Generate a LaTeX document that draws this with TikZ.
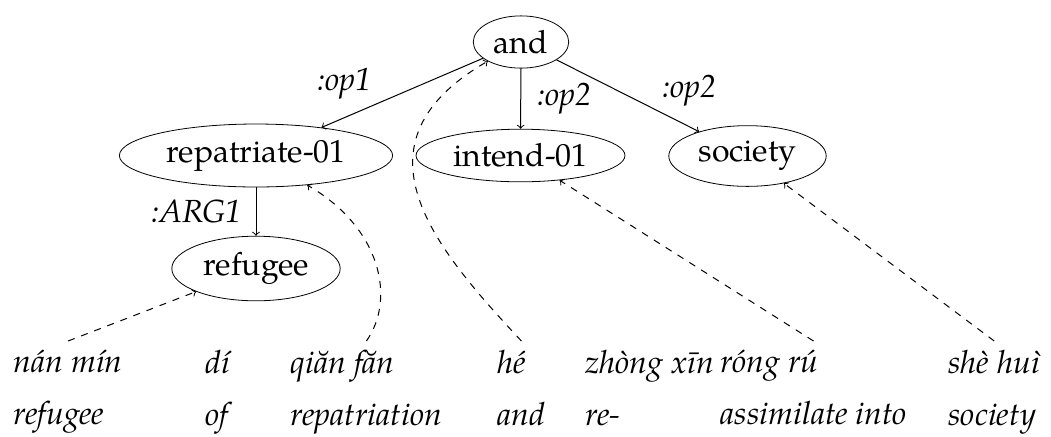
\documentclass[tikz,border=0pt]{standalone}
\usepackage{fontspec}
\setmainfont{TeX Gyre Pagella}
\usetikzlibrary{arrows}
\usetikzlibrary{shapes.geometric,calc}

\tikzset{
	concept/.style={draw, ellipse, font=\fontsize{16}{19}\selectfont},
	word/.style={anchor=north west, align=left, inner xsep=0pt, inner ysep=4.5pt, font=\fontsize{16}{26}\selectfont\itshape},
	role/.style={inner sep=2pt, font=\fontsize{16}{19}\selectfont\itshape},
	rel/.style={->, line width=0.5pt},
	link/.style={->, line width=0.5pt, dash pattern=on 3.5pt off 3.5pt}
}

\begin{document}
\begin{tikzpicture}[x=0.5pt,y=0.5pt]
	\useasboundingbox (0,0) rectangle (1051,-436);

	\node[concept] (and) at (521,-42) {and};
	\node[concept] (rep) at (256,-155.5) {repatriate-01};
	\node[concept] (int) at (520.5,-155.5) {intend-01};
	\node[concept] (soc) at (747.5,-156) {society};
	\node[concept] (ref) at (256,-268.5) {refugee};

	\node[word] (w1) at (13,-341) {nán mín\\refugee};
	\node[word] (w2) at (205,-341) {dí\\of};
	\node[word] (w3) at (290,-341) {qiăn făn\\repatriation};
	\node[word] (w4) at (497,-341) {hé\\and};
	\node[word] (w5) at (585,-341) {zhòng xīn\\re-};
	\node[word] (w6) at (720,-341) {róng rú\\assimilate into};
	\node[word] (w7) at (948,-341) {shè huì\\society};

	\draw[rel] (and) -- node[role, pos=0.66, anchor=south east] {:op1} (rep);
	\draw[rel] (and) -- node[role, right=6pt] {:op2} (int);
	\draw[rel] (and) -- node[role, pos=0.71, anchor=south west] {:op2} (soc);
	\draw[rel] (rep) -- node[role, left=5pt] {:ARG1} (ref);

	\draw[link] (w1.north) -- (ref);
	\draw[link] (w3.north) to[out=55, in=330, out looseness=0.8, in looseness=1.3] (rep);
	\draw[link] (w4.north) to[out=133, in=210, out looseness=1.15, in looseness=1.5] (and);
	\draw[link] (w6.north) -- (int);
	\draw[link] (w7.north) -- (soc);
\end{tikzpicture}
\end{document}
